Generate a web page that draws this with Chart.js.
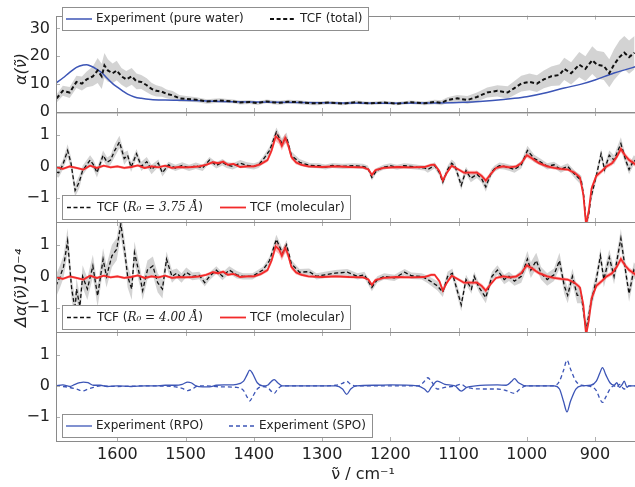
<!DOCTYPE html>
<html><head><meta charset="utf-8">
<script src="https://cdn.jsdelivr.net/npm/chart.js@4.4.1/dist/chart.umd.min.js"></script>
<style>
html,body{margin:0;padding:0;background:#fff;overflow:hidden;width:635px;height:487px}
#wrap{position:relative;width:635px;height:487px;overflow:hidden;background:#fff}
canvas{position:absolute;left:0;top:0}
</style></head><body><div id="wrap">
<canvas id="c1" width="670" height="487"></canvas>
<canvas id="c2" width="670" height="487"></canvas>
<canvas id="c3" width="670" height="487"></canvas>
<canvas id="c4" width="670" height="487"></canvas>
</div>
<script>
// ---------- axes / labels ----------
const X_MIN = 790, X_MAX = 1690;
const xTicks = [1600, 1500, 1400, 1300, 1200, 1100, 1000, 900];
const yTicksTop = [0, 10, 20, 30];
const yTicksDiff = [-1, 0, 1];
const xTitle = 'ν̃ / cm⁻¹';
const yTitleTop = 'α(ν̃)';
const yTitleDiff = 'Δα(ν̃)10⁻⁴';
const labelExpWater = 'Experiment (pure water)';
const labelTcfTotal = 'TCF (total)';
const labelTcf375 = 'TCF (R₀ = 3.75 Å)';
const labelTcf400 = 'TCF (R₀ = 4.00 Å)';
const labelTcfMol = 'TCF (molecular)';
const labelRPO = 'Experiment (RPO)';
const labelSPO = 'Experiment (SPO)';

// ---------- panel 1 ----------
const expWaterWn = [1690,1680,1670,1660,1650,1645,1640,1630,1622,1615,1607,1600,1592,1585,1575,1565,1551,1530,1507,1450,1400,1300,1200,1150,1100,1080,1050,1018,1000,970,945,920,900,872,855,840];
const expWater   = [10.4,12.2,14.2,16.0,16.9,17.0,16.6,15.3,13.9,12.1,10.2,8.9,7.5,6.4,5.4,4.9,4.5,4.3,4.2,3.8,3.6,3.3,3.1,3.2,3.4,3.6,4.1,4.9,5.5,7.0,8.6,10.0,11.5,14.0,15.2,16.3];

const tcfTotalWn = [1689,1680,1670,1660,1652,1645,1636,1629,1623,1619,1614,1607,1601,1594,1587,1579,1572,1565,1557,1550,1543,1535,1528,1519,1509,1499,1484,1469,1450,1431,1420,1406,1395,1381,1370,1362,1350,1333,1320,1308,1290,1270,1250,1230,1210,1190,1170,1150,1135,1125,1116,1102,1087,1073,1058,1043,1028,1018,1008,996,985,975,964,952,945,935,923,914,904,897,887,879,872,864,857,850,842];
const tcfTotal   = [4.9,7.6,7.0,10.8,10.2,11.7,12.8,14.9,12.8,16.7,14.9,13.9,14.9,12.8,11.7,12.8,11.0,10.8,9.6,8.3,7.6,7.3,6.5,6.0,4.9,4.7,4.4,3.8,4.1,3.8,3.4,3.6,3.2,3.8,3.4,3.3,3.7,3.5,3.2,3.1,3.4,3.0,3.5,3.1,3.4,3.0,3.5,3.1,3.6,3.3,4.3,4.9,4.3,5.4,7.0,7.6,7.0,8.6,10.2,10.8,10.2,11.7,12.8,13.3,15.5,13.9,17.0,15.5,18.6,17.0,16.5,13.9,17.0,19.7,21.3,19.7,21.3];
const tcfTotalErr= [1.5,1.8,2.0,2.2,2.5,2.8,3.5,4.5,4.5,4.5,4.0,3.5,3.5,3.0,3.0,3.0,2.8,2.5,2.5,2.2,2.0,1.8,1.6,1.5,1.2,1.0,0.9,0.8,0.8,0.7,0.7,0.7,0.7,0.7,0.7,0.7,0.7,0.7,0.7,0.7,0.6,0.6,0.6,0.6,0.6,0.6,0.6,0.7,0.8,0.9,1.0,1.2,1.4,1.6,1.8,2.0,2.2,2.5,2.8,3.0,3.0,3.2,3.5,3.8,4.0,4.0,4.5,4.5,5.0,5.0,5.0,5.0,5.5,6.0,6.0,6.0,6.0];

// ---------- panel 2 ----------
const tcf375Wn = [1690,1686,1680,1673,1668,1662,1656,1651,1645,1640,1635,1630,1625,1621,1615,1610,1604,1597,1590,1585,1580,1572,1565,1557,1550,1540,1534,1525,1515,1505,1495,1485,1475,1465,1455,1446,1440,1431,1420,1410,1400,1393,1387,1377,1367,1359,1352,1345,1333,1318,1305,1295,1285,1270,1255,1240,1233,1227,1220,1210,1200,1190,1180,1170,1160,1150,1145,1135,1128,1123,1116,1110,1105,1096,1089,1082,1073,1066,1060,1052,1047,1040,1033,1025,1018,1008,999,989,979,970,960,950,940,929,920,916,913,909,906,898,891,886,879,872,862,855,850,843,840];
const tcf375   = [-0.18,-0.2,0.05,0.5,0.1,-0.76,-0.5,-0.13,0.05,0.2,0.05,-0.2,0.1,0.35,0.13,0.2,0.5,0.77,0.25,0.35,-0.03,0.4,0.0,0.15,-0.1,0.1,-0.2,0.05,-0.05,0.03,-0.05,0.02,-0.05,0.2,0.03,0.13,0.05,0.0,0.1,0.03,0.0,0.05,0.2,0.5,1.08,0.73,0.92,0.35,0.13,0.03,0.02,-0.02,0.03,0.0,0.02,0.0,-0.05,-0.35,-0.13,-0.03,0.02,-0.03,0.02,0.0,-0.03,-0.05,-0.1,0.03,-0.2,-0.5,-0.1,0.1,0.0,-0.6,-0.13,-0.38,-0.25,-0.4,-0.65,-0.2,-0.07,0.02,0.0,-0.05,-0.1,0.05,0.5,0.25,0.13,0.0,0.05,-0.1,0.0,-0.27,-0.45,-1.0,-1.8,-1.5,-1.0,-0.3,0.4,-0.1,0.35,0.2,0.72,0.2,-0.1,0.2,0.15];
const tcf375Err= [0.15,0.15,0.15,0.2,0.2,0.2,0.2,0.15,0.15,0.15,0.15,0.15,0.15,0.15,0.15,0.15,0.2,0.2,0.2,0.15,0.15,0.15,0.15,0.15,0.15,0.12,0.12,0.1,0.1,0.1,0.1,0.1,0.1,0.1,0.1,0.1,0.1,0.1,0.1,0.1,0.1,0.1,0.1,0.12,0.15,0.15,0.15,0.12,0.1,0.08,0.08,0.08,0.08,0.08,0.08,0.08,0.08,0.1,0.08,0.08,0.08,0.08,0.08,0.08,0.08,0.08,0.1,0.1,0.1,0.12,0.12,0.12,0.12,0.15,0.12,0.12,0.12,0.12,0.15,0.12,0.1,0.1,0.1,0.1,0.1,0.12,0.15,0.12,0.1,0.1,0.1,0.1,0.1,0.12,0.15,0.2,0.2,0.2,0.15,0.15,0.15,0.15,0.15,0.15,0.2,0.15,0.15,0.15,0.15];

const tcfMolWn = [1690,1680,1670,1660,1650,1640,1630,1620,1610,1600,1590,1580,1570,1560,1550,1540,1530,1520,1510,1500,1490,1480,1470,1460,1452,1445,1438,1430,1420,1410,1400,1390,1380,1374,1368,1363,1359,1354,1350,1345,1338,1330,1320,1300,1280,1260,1240,1232,1227,1222,1210,1190,1170,1150,1140,1135,1128,1123,1117,1110,1100,1092,1082,1073,1066,1060,1053,1045,1035,1025,1015,1008,1000,992,982,970,960,950,940,930,922,917,913,909,905,898,890,883,875,868,862,856,850,843,840];
const tcfMol   = [-0.02,-0.08,0.0,-0.05,-0.1,0.02,-0.05,0.02,-0.03,0.0,-0.05,-0.02,0.03,-0.05,0.0,-0.03,0.02,-0.05,-0.02,-0.03,-0.02,0.0,0.05,0.13,0.1,0.15,0.05,0.08,-0.02,0.0,0.0,0.07,0.2,0.5,0.95,0.85,0.65,0.9,0.7,0.3,0.12,0.05,0.0,-0.02,0.0,-0.02,-0.03,-0.1,-0.27,-0.12,-0.05,-0.02,-0.03,-0.02,0.05,0.05,-0.15,-0.45,-0.2,0.02,-0.1,-0.2,-0.2,-0.2,-0.3,-0.45,-0.25,-0.05,0.0,-0.03,0.0,0.1,0.35,0.25,0.1,0.0,-0.05,-0.08,-0.1,-0.2,-0.35,-0.9,-1.85,-1.4,-0.7,-0.3,-0.15,0.0,0.1,0.3,0.55,0.35,0.2,0.1,0.05];
const tcfMolErr= [0.04,0.04,0.04,0.04,0.04,0.04,0.04,0.04,0.04,0.04,0.04,0.04,0.04,0.04,0.04,0.04,0.04,0.04,0.04,0.04,0.04,0.04,0.04,0.05,0.05,0.05,0.05,0.04,0.04,0.04,0.04,0.05,0.06,0.1,0.15,0.15,0.15,0.15,0.12,0.08,0.06,0.05,0.04,0.04,0.04,0.04,0.04,0.05,0.06,0.05,0.04,0.04,0.04,0.04,0.05,0.05,0.06,0.08,0.06,0.05,0.05,0.06,0.06,0.06,0.07,0.08,0.06,0.05,0.05,0.05,0.05,0.06,0.08,0.07,0.06,0.05,0.05,0.05,0.05,0.06,0.08,0.1,0.1,0.1,0.1,0.08,0.07,0.07,0.07,0.08,0.1,0.08,0.08,0.08,0.08];

// ---------- panel 3 ----------
const tcf400Wn = [1690,1684,1679,1673,1667,1662,1660,1655,1651,1644,1636,1629,1621,1616,1608,1601,1595,1589,1585,1579,1575,1567,1563,1556,1548,1541,1534,1528,1520,1513,1506,1499,1490,1480,1472,1465,1455,1446,1436,1425,1416,1402,1387,1377,1367,1358,1352,1345,1333,1319,1308,1296,1281,1263,1248,1238,1227,1219,1209,1194,1179,1169,1154,1145,1131,1123,1116,1109,1096,1089,1081,1077,1070,1060,1051,1043,1033,1026,1018,1008,999,994,986,979,970,960,952,945,940,933,926,920,913,906,898,892,887,879,872,862,854,850,843,840];
const tcf400   = [-0.3,0.0,0.3,1.12,-0.4,-1.05,-0.4,-0.95,0.0,-0.4,0.33,-0.62,0.54,0.0,0.65,0.86,1.65,0.75,0.0,-0.4,0.75,0.0,-0.45,0.2,0.33,-0.2,-0.4,0.54,0.0,0.1,-0.05,0.13,0.0,0.03,-0.2,0.0,0.2,0.0,0.2,0.05,0.0,0.0,0.2,0.5,1.17,0.73,1.0,0.4,0.13,0.15,0.0,0.05,0.1,0.13,0.0,0.05,-0.35,-0.1,0.0,-0.05,0.13,0.02,0.0,-0.1,-0.3,-0.5,0.0,0.1,-0.9,-0.1,-0.4,0.0,-0.35,-0.67,0.0,0.2,-0.1,0.0,-0.15,0.0,0.55,0.2,0.5,0.1,-0.1,0.05,0.5,-0.3,-0.6,0.0,-0.6,-0.6,-1.7,-0.85,-0.1,0.65,-0.1,0.6,0.0,1.2,0.0,-0.55,0.2,0.1];
const tcf400Err= [0.35,0.35,0.35,0.4,0.35,0.35,0.35,0.35,0.35,0.35,0.35,0.35,0.35,0.35,0.35,0.35,0.4,0.35,0.35,0.35,0.35,0.3,0.3,0.3,0.3,0.3,0.3,0.25,0.2,0.15,0.15,0.15,0.12,0.12,0.12,0.12,0.12,0.12,0.12,0.12,0.1,0.1,0.1,0.12,0.15,0.15,0.15,0.12,0.1,0.1,0.1,0.1,0.1,0.1,0.1,0.1,0.12,0.1,0.1,0.1,0.1,0.1,0.1,0.12,0.15,0.15,0.15,0.15,0.2,0.15,0.15,0.15,0.15,0.18,0.15,0.15,0.15,0.15,0.15,0.2,0.25,0.25,0.25,0.2,0.2,0.2,0.25,0.25,0.25,0.25,0.25,0.25,0.25,0.25,0.25,0.25,0.25,0.25,0.25,0.3,0.25,0.25,0.25,0.25];

// ---------- panel 4 ----------
const rpoWn = [1690,1680,1670,1662,1655,1650,1643,1635,1625,1615,1600,1580,1560,1545,1530,1515,1505,1497,1492,1485,1475,1465,1455,1440,1425,1415,1410,1406,1402,1395,1387,1380,1374,1370,1365,1358,1340,1300,1280,1270,1264,1258,1250,1220,1200,1160,1150,1145,1140,1131,1120,1105,1096,1088,1075,1043,1030,1022,1018,1012,1000,980,960,952,946,941,936,928,920,906,898,893,889,884,878,872,868,864,860,857,853,850,840];
const rpo   = [0,0.03,-0.02,0.05,0.1,0.12,0.1,0.02,0.02,-0.02,0,-0.02,0,0,0.02,0.02,0.05,0.12,0.1,0.0,-0.03,-0.03,0.02,0.03,0.05,0.15,0.35,0.5,0.4,0.1,0.0,0.02,0.15,0.2,0.1,0,0,0,0,-0.1,-0.27,-0.1,0.0,0.02,0.03,0.0,-0.1,-0.2,-0.05,0.15,0.05,0.0,-0.17,-0.05,0.0,0.03,0.02,0.15,0.23,0.1,0.0,0.0,0.0,-0.1,-0.5,-0.83,-0.5,-0.1,0.0,0.02,0.15,0.4,0.58,0.35,0.1,0.02,0.1,-0.05,0.05,0.15,-0.05,0.0,0.0];
const spoWn = [1690,1680,1670,1660,1651,1643,1635,1625,1600,1560,1520,1505,1497,1490,1482,1470,1450,1425,1415,1410,1406,1402,1395,1387,1380,1374,1370,1365,1358,1300,1280,1270,1264,1258,1250,1160,1152,1145,1140,1131,1120,1105,1096,1088,1060,1043,1030,1018,1010,1000,960,952,946,941,936,928,920,906,898,893,889,884,878,872,868,864,857,850,840];
const spo   = [0,-0.02,-0.05,-0.1,-0.16,-0.1,-0.05,0.0,-0.02,0,-0.02,-0.08,-0.15,-0.1,0.0,0.0,-0.03,-0.05,-0.15,-0.35,-0.48,-0.35,-0.1,-0.02,-0.05,-0.18,-0.24,-0.1,0,0,0.02,0.08,0.15,0.05,0,0.0,0.1,0.26,0.15,-0.1,-0.05,0.0,0.05,-0.05,-0.1,-0.1,-0.15,-0.24,-0.1,0.0,0.0,0.15,0.5,0.82,0.55,0.15,0.02,-0.02,-0.15,-0.4,-0.53,-0.35,-0.1,0.0,-0.05,0.05,-0.1,0.0,0.0];

// ---------- styling ----------
const BLUE = '#3c55b6', RED = '#f22a2a', BLACK = '#111';
const GRAY_BAND = 'rgba(140,140,140,0.38)', RED_BAND = 'rgba(255,60,60,0.35)';
const FONT = 'DejaVu Sans';

const pts = (wn, v) => wn.map((w, i) => ({x: w, y: v[i]}));
function line(label, wn, v, color, width, dash, order, smooth, italicPart) {
  return {label, italicPart, data: pts(wn, v), borderColor: color, borderWidth: width, borderDash: dash || [],
    pointRadius: 0, fill: false, order, clip: 0, tension: 0,
    cubicInterpolationMode: smooth ? 'monotone' : 'default'};
}
function band(wn, v, e, color, order) {
  return [
    {data: wn.map((w, i) => ({x: w, y: v[i] + e[i]})), borderColor: 'rgba(0,0,0,0)', borderWidth: 1,
     pointRadius: 0, fill: false, order, clip: 0},
    {data: wn.map((w, i) => ({x: w, y: v[i] - e[i]})), borderColor: 'rgba(0,0,0,0)', borderWidth: 1,
     pointRadius: 0, fill: '-1', backgroundColor: color, order, clip: 0}
  ];
}
const fmt = v => v < 0 ? '\u2212' + Math.abs(v) : String(v);

function drawRich(ctx, text, italicPart, x, y) {
  const normal = '12px ' + FONT, ital = 'italic 12px DejaVu Serif';
  const i = italicPart ? text.indexOf(italicPart) : -1;
  if (i < 0) { ctx.font = normal; ctx.fillText(text, x, y); return; }
  const parts = [[text.slice(0, i), normal], [italicPart, ital], [text.slice(i + italicPart.length), normal]];
  parts.forEach(([t, f]) => { ctx.font = f; ctx.fillText(t, x, y); x += ctx.measureText(t).width; });
}

const decor = {
  id: 'decor',
  afterDraw(chart, args, o) {
    const ctx = chart.ctx, a = chart.chartArea;
    const xs = chart.scales.x, ys = chart.scales.y;
    ctx.save();
    ctx.strokeStyle = '#b0b0b0'; ctx.lineWidth = 1;
    ctx.beginPath();
    xTicks.forEach(v => {
      const px = Math.round(xs.getPixelForValue(v)) + 0.5;
      ctx.moveTo(px, a.top); ctx.lineTo(px, a.top + 4);
      ctx.moveTo(px, a.bottom); ctx.lineTo(px, a.bottom - 4);
    });
    o.yTicks.forEach(v => {
      const py = Math.round(ys.getPixelForValue(v)) + 0.5;
      ctx.moveTo(a.left, py); ctx.lineTo(a.left + 4, py);
    });
    ctx.stroke();
    ctx.strokeStyle = '#8a8a8a'; ctx.lineWidth = 1;
    ctx.strokeRect(Math.round(a.left) + 0.5, Math.round(a.top) + 0.5, a.right - a.left, a.bottom - a.top);
    const L = o.legend;
    ctx.fillStyle = '#fff'; ctx.fillRect(L.x, L.y, L.w, L.h);
    ctx.strokeStyle = '#8f8f8f'; ctx.strokeRect(L.x + 0.5, L.y + 0.5, L.w, L.h);
    const cy = L.y + L.h / 2 + 0.5;
    let k = 0;
    chart.data.datasets.forEach(ds => {
      if (!ds.label) return;
      const sx = L.items[k++];
      ctx.strokeStyle = ds.borderColor; ctx.lineWidth = Math.min(ds.borderWidth, 2);
      ctx.setLineDash(ds.borderDash || []);
      ctx.beginPath(); ctx.moveTo(sx, cy); ctx.lineTo(sx + 26, cy); ctx.stroke();
      ctx.setLineDash([]);
      ctx.fillStyle = '#222'; ctx.textAlign = 'left'; ctx.textBaseline = 'middle';
      drawRich(ctx, ds.label, ds.italicPart, sx + 30, cy);
    });
    if (o.yLabel) {
      ctx.translate(o.yLabel.x, o.yLabel.y); ctx.rotate(-Math.PI / 2);
      ctx.fillStyle = '#222'; ctx.font = 'italic 16px ' + FONT;
      ctx.textAlign = 'center'; ctx.textBaseline = 'middle';
      ctx.fillText(o.yLabel.text, 0, 0);
    }
    ctx.restore();
  }
};

function makeChart(id, datasets, ymin, ymax, yTicks, padTop, padBottom, showX, decorOpts) {
  decorOpts.yTicks = yTicks;
  return new Chart(document.getElementById(id), {
    type: 'line',
    data: {datasets},
    plugins: [decor],
    options: {
      responsive: false, maintainAspectRatio: false, animation: false, devicePixelRatio: 1, events: [],
      layout: {padding: {left: 0, right: 0, top: padTop, bottom: padBottom}},
      plugins: {legend: {display: false}, tooltip: {enabled: false}, decor: decorOpts},
      scales: {
        x: {type: 'linear', min: X_MIN, max: X_MAX, reverse: true, display: showX,
            afterBuildTicks: s => { s.ticks = xTicks.map(v => ({value: v})); },
            afterFit: s => { if (showX) s.height = 46; },
            grid: {display: false, drawTicks: false}, border: {display: false},
            ticks: {autoSkip: false, maxRotation: 0, padding: 4, color: '#222', font: {family: FONT, size: 16},
                    callback: v => String(v)},
            title: {display: showX, text: xTitle, color: '#222', font: {family: FONT, size: 16}, padding: {top: 0, bottom: 3}}},
        y: {type: 'linear', min: ymin, max: ymax,
            afterBuildTicks: s => { s.ticks = yTicks.map(v => ({value: v})); },
            afterFit: s => { s.width = 56; },
            grid: {display: false, drawTicks: false}, border: {display: false},
            ticks: {autoSkip: false, padding: 6, color: '#222', font: {family: FONT, size: 16}, callback: fmt}}
      }
    }
  });
}

makeChart('c1', [
  line(labelExpWater, expWaterWn, expWater, BLUE, 1.5, [], 1, true),
  line(labelTcfTotal, tcfTotalWn, tcfTotal, BLACK, 2, [4, 2.6], 0, false),
  ...band(tcfTotalWn, tcfTotal, tcfTotalErr, GRAY_BAND, 2)
], 0, 34.6, yTicksTop, 3, 375, false,
  {legend: {x: 62, y: 7, w: 306, h: 23, items: [66, 270]}, yLabel: {text: yTitleTop, x: 22, y: 69}});

makeChart('c2', [
  line(labelTcf375, tcf375Wn, tcf375, BLACK, 1.3, [4, 2.5], 1, false, 'R₀ = 3.75 Å'),
  line(labelTcfMol, tcfMolWn, tcfMol, RED, 1.8, [], 0, false),
  ...band(tcfMolWn, tcfMol, tcfMolErr, RED_BAND, 2),
  ...band(tcf375Wn, tcf375, tcf375Err, GRAY_BAND, 3)
], -1.76, 1.72, yTicksDiff, 112, 265, false,
  {legend: {x: 62, y: 195, w: 288, h: 24, items: [67, 220]}});

makeChart('c3', [
  line(labelTcf400, tcf400Wn, tcf400, BLACK, 1.3, [4, 2.5], 1, false, 'R₀ = 4.00 Å'),
  line(labelTcfMol, tcfMolWn, tcfMol, RED, 1.8, [], 0, false),
  ...band(tcfMolWn, tcfMol, tcfMolErr, RED_BAND, 2),
  ...band(tcf400Wn, tcf400, tcf400Err, GRAY_BAND, 3)
], -1.76, 1.72, yTicksDiff, 222, 155, false,
  {legend: {x: 62, y: 305, w: 288, h: 24, items: [67, 220]}, yLabel: {text: yTitleDiff, x: 22, y: 288}});

makeChart('c4', [
  line(labelRPO, rpoWn, rpo, BLUE, 1.3, [], 0, true),
  line(labelSPO, spoWn, spo, BLUE, 1.3, [4, 3], 1, true)
], -1.76, 1.72, yTicksDiff, 332, 0, true,
  {legend: {x: 62, y: 414, w: 310, h: 23, items: [66, 229]}});
</script>
</body></html>
